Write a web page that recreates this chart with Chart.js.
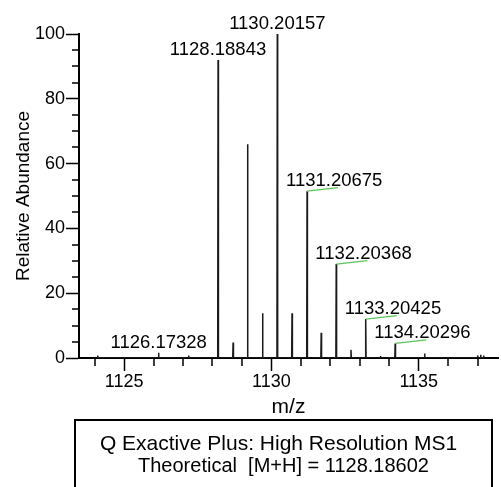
<!DOCTYPE html>
<html>
<head>
<meta charset="utf-8">
<script src="https://cdn.jsdelivr.net/npm/chart.js@4"></script>
<style>
  html, body { margin: 0; padding: 0; background: #fff; overflow: hidden; }
  #wrap { position: relative; width: 501px; height: 487px; }
  #infoBox {
    position: absolute; left: 74px; top: 419px; width: 419px; height: 90px;
    border: 2.5px solid #000; text-align: center; white-space: pre;
    font-family: 'Liberation Sans', Arial, sans-serif; font-size: 20px; line-height: 22px;
    padding-top: 11px; box-sizing: border-box; color: #000;
  }
  #infoBox .l1 { position: relative; left: -5px; font-size: 21px; }
</style>
</head>
<body>
<div id="wrap">
  <canvas id="msChart" width="501" height="487"></canvas>
  <div id="infoBox"><div class="l1">Q Exactive Plus: High Resolution MS1</div><div>Theoretical  [M+H] = 1128.18602</div></div>
</div>
<script>
// ===== Данные спектра =====
const peakMz = [1124.10, 1126.17, 1127.19, 1128.19, 1128.70, 1129.19, 1129.70, 1130.20, 1130.70,
                1131.21, 1131.69, 1132.20, 1132.70, 1133.20, 1133.70, 1134.20, 1135.20,
                1137.00, 1137.10, 1137.20];
const peakIntensity = [0.8, 1.6, 0.8, 92, 4.8, 66, 13.8, 100, 13.8,
                       51.5, 7.8, 29, 2.5, 12, 0.6, 4.5, 1.4,
                       0.8, 1.0, 0.8];

// подписи пиков
const labelMz = [1126.17328, 1128.18843, 1130.20157, 1131.20675, 1132.20368, 1133.20425, 1134.20296];
const labelIntensity = [1.6, 92, 100, 51.5, 29, 12, 4.5];
const labelLeader = [false, false, false, true, true, true, true];

const xMin = 1123.47, xMax = 1137.69;
const yTicksMajor = [0, 20, 40, 60, 80, 100];

// профиль: каждый пик как узкий треугольник от нуля
const profile = [];
peakMz.forEach((mz, i) => {
    profile.push({ x: mz - 0.012, y: 0 });
    profile.push({ x: mz, y: peakIntensity[i] });
    profile.push({ x: mz + 0.012, y: 0 });
});

Chart.defaults.font.family = "'Liberation Sans', Arial, sans-serif";
Chart.defaults.color = '#000';

// подписи пиков + зелёные выноски
const peakLabels = {
    id: 'peakLabels',
    afterDatasetsDraw(chart) {
        const ctx = chart.ctx;
        const xs = chart.scales.x, ys = chart.scales.y;
        ctx.save();
        ctx.font = "18.5px 'Liberation Sans', Arial, sans-serif";
        ctx.fillStyle = '#000';
        ctx.textBaseline = 'bottom';
        labelMz.forEach((mz, i) => {
            const px = xs.getPixelForValue(mz);
            const py = ys.getPixelForValue(labelIntensity[i]);
            const text = mz.toFixed(5);
            if (labelLeader[i]) {
                ctx.strokeStyle = '#5cc35c';
                ctx.lineWidth = 1.3;
                ctx.beginPath();
                ctx.moveTo(px, py);
                ctx.lineTo(px + 31, py - 3.5);
                ctx.stroke();
                ctx.textAlign = 'left';
                ctx.fillText(text, px - 21, py - 1);
            } else {
                ctx.textAlign = 'center';
                ctx.fillText(text, px, py - 1);
            }
        });
        ctx.restore();
    }
};

// мелкие деления осей
const minorTicks = {
    id: 'minorTicks',
    afterDraw(chart) {
        const ctx = chart.ctx;
        const xs = chart.scales.x, ys = chart.scales.y;
        ctx.save();
        ctx.strokeStyle = '#000';
        ctx.lineWidth = 1.5;
        ctx.beginPath();
        xs.ticks.forEach(t => {
            if (t.value % 5 !== 0) {
                const px = Math.round(xs.getPixelForValue(t.value));
                ctx.moveTo(px, ys.bottom);
                ctx.lineTo(px, ys.bottom + 8);
            }
        });
        ys.ticks.forEach(t => {
            if (t.value % 20 !== 0) {
                const py = Math.round(ys.getPixelForValue(t.value));
                ctx.moveTo(xs.left, py);
                ctx.lineTo(xs.left - 7, py);
            }
        });
        ctx.stroke();
        ctx.restore();
    }
};

const msCtx = document.getElementById('msChart').getContext('2d');
new Chart(msCtx, {
    type: 'scatter',
    data: {
        datasets: [{
            data: profile,
            showLine: true,
            borderColor: '#1a1a1a',
            borderWidth: 1.5,
            pointRadius: 0,
            tension: 0
        }]
    },
    options: {
        responsive: false,
        animation: false,
        layout: { padding: { left: 8, top: 34, right: 3, bottom: 63.5 } },
        plugins: { legend: { display: false }, tooltip: { enabled: false } },
        scales: {
            x: {
                type: 'linear',
                min: xMin,
                max: xMax,
                afterFit(scale) { scale.height = 65.5; },
                border: { display: true, color: '#000', width: 2 },
                grid: {
                    drawOnChartArea: false,
                    tickLength: 13,
                    tickWidth: 1.5,
                    tickColor: c => (c.tick && c.tick.value % 5 === 0) ? '#000' : 'rgba(0,0,0,0)'
                },
                ticks: {
                    stepSize: 1,
                    includeBounds: false,
                    autoSkip: false,
                    maxRotation: 0,
                    padding: 0,
                    font: { size: 18 },
                    callback: v => (v % 5 === 0 ? String(v) : '')
                },
                title: { display: true, text: 'm/z', font: { size: 21 } }
            },
            y: {
                min: 0,
                max: 100,
                afterFit(scale) { scale.width = 71; },
                border: { display: true, color: '#000', width: 2 },
                grid: {
                    drawOnChartArea: false,
                    tickLength: 13,
                    tickWidth: 1.5,
                    tickColor: c => (c.tick && yTicksMajor.includes(c.tick.value)) ? '#000' : 'rgba(0,0,0,0)'
                },
                ticks: {
                    stepSize: 5,
                    autoSkip: false,
                    padding: 1,
                    font: { size: 18 },
                    callback: v => (yTicksMajor.includes(v) ? String(v) : '')
                },
                title: { display: true, text: 'Relative Abundance', font: { size: 19 } }
            }
        }
    },
    plugins: [peakLabels, minorTicks]
});
</script>
</body>
</html>
